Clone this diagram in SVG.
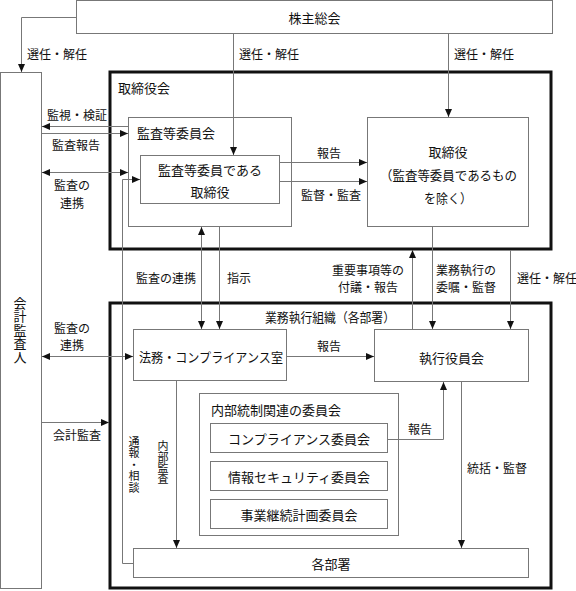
<svg xmlns="http://www.w3.org/2000/svg" width="576" height="591" viewBox="0 0 576 591">
<style>
text{font-family:"Noto Sans CJK JP","Noto Sans CJK SC",sans-serif;fill:#111;dominant-baseline:central}
.b{font-size:13px}
.l{font-size:12px}
.s{font-size:11px}
.c{text-anchor:middle}
.v{writing-mode:vertical-rl;text-anchor:middle}
.box{fill:#fff;stroke:#777;stroke-width:1}
.thick{fill:none;stroke:#111;stroke-width:3}
.ln{fill:none;stroke:#777;stroke-width:1}
</style>
<defs>
<marker id="a" viewBox="0 0 8 8" refX="8" refY="4" markerWidth="8" markerHeight="8" markerUnits="userSpaceOnUse" orient="auto-start-reverse">
<path d="M0,0.5 L8,4 L0,7.5 Z" fill="#111"/>
</marker>
</defs>
<rect width="576" height="591" fill="#fff"/>
<g id="torishimariyakukai">
<rect class="thick" x="110" y="72" width="441" height="177"/>
<text class="b" x="118" y="87">取締役会</text>
</g>
<g id="gyomu">
<rect class="thick" x="110" y="303" width="441" height="285"/>
<text class="b" x="265" y="316" textLength="130" lengthAdjust="spacingAndGlyphs">業務執行組織（各部署）</text>
</g>
<g id="kabunushi">
<rect class="box" x="76.5" y="0.5" width="476" height="33"/>
<text class="b c" x="314.5" y="17">株主総会</text>
</g>
<g id="kaikei">
<rect class="box" x="0.5" y="72.5" width="41" height="516"/>
<text class="b v" x="20" y="330" style="letter-spacing:0.5px">会計監査人</text>
</g>
<g id="kansatou">
<rect class="box" x="128.5" y="117.5" width="163" height="109"/>
<text class="b" x="137" y="132">監査等委員会</text>
</g>
<g id="kansatou-torishimari">
<rect class="box" x="140.5" y="155.5" width="139" height="48"/>
<text class="b c" x="210" y="169">監査等委員である</text>
<text class="b c" x="210" y="191">取締役</text>
</g>
<g id="torishimari">
<rect class="box" x="367.5" y="117.5" width="161" height="109"/>
<text class="b c" x="448" y="151">取締役</text>
<text class="b c" x="448.5" y="174" textLength="137" lengthAdjust="spacingAndGlyphs">（監査等委員であるもの</text>
<text class="b c" x="448" y="197" textLength="48" lengthAdjust="spacingAndGlyphs">を除く）</text>
</g>
<g id="houmu">
<rect class="box" x="133.5" y="329.5" width="153" height="51"/>
<text class="b c" x="211" y="356" textLength="144" lengthAdjust="spacingAndGlyphs">法務・コンプライアンス室</text>
</g>
<g id="shikkou">
<rect class="box" x="374.5" y="329.5" width="154" height="52"/>
<text class="b c" x="451.5" y="357">執行役員会</text>
</g>
<g id="naibutousei">
<rect class="box" x="199.5" y="393.5" width="199" height="142"/>
<text class="b" x="211" y="409">内部統制関連の委員会</text>
</g>
<g id="compliance">
<rect class="box" x="210.5" y="423.5" width="177" height="29"/>
<text class="b c" x="299" y="438">コンプライアンス委員会</text>
</g>
<g id="security">
<rect class="box" x="210.5" y="461.5" width="177" height="29"/>
<text class="b c" x="299" y="476">情報セキュリティ委員会</text>
</g>
<g id="bcp">
<rect class="box" x="210.5" y="499.5" width="177" height="29"/>
<text class="b c" x="299" y="514">事業継続計画委員会</text>
</g>
<g id="kakubusho">
<rect class="box" x="133.5" y="548.5" width="395" height="29"/>
<text class="b c" x="331" y="563">各部署</text>
</g>
<g id="connectors">
<path class="ln" d="M76,17.5 H21.5 V72" marker-end="url(#a)"/>
<path class="ln" d="M233.5,34 V155" marker-end="url(#a)"/>
<path class="ln" d="M448.5,34 V117" marker-end="url(#a)"/>
<path class="ln" d="M128,126.5 H42" marker-end="url(#a)"/>
<path class="ln" d="M42,133.5 H128" marker-end="url(#a)"/>
<path class="ln" d="M42,172.5 H128" marker-start="url(#a)" marker-end="url(#a)"/>
<path class="ln" d="M133,563.5 H122.5 V179.5 H140" marker-end="url(#a)"/>
<path class="ln" d="M280,162.5 H367" marker-end="url(#a)"/>
<path class="ln" d="M280,181.5 H367" marker-end="url(#a)"/>
<path class="ln" d="M201.5,227 V329" marker-start="url(#a)" marker-end="url(#a)"/>
<path class="ln" d="M219.5,227 V329" marker-end="url(#a)"/>
<path class="ln" d="M412.5,329 V250" marker-end="url(#a)"/>
<path class="ln" d="M432.5,227 V329" marker-end="url(#a)"/>
<path class="ln" d="M510.5,250 V329" marker-end="url(#a)"/>
<path class="ln" d="M42,356.5 H133" marker-start="url(#a)" marker-end="url(#a)"/>
<path class="ln" d="M287,356.5 H374" marker-end="url(#a)"/>
<path class="ln" d="M176.5,381 V548" marker-end="url(#a)"/>
<path class="ln" d="M42,422.5 H109" marker-end="url(#a)"/>
<path class="ln" d="M388,439.5 H443.5 V382" marker-end="url(#a)"/>
<path class="ln" d="M461.5,382 V548" marker-end="url(#a)"/>
<text class="l" x="27" y="53">選任・解任</text>
<text class="l" x="239" y="53">選任・解任</text>
<text class="l" x="454" y="53">選任・解任</text>
<text class="l" x="47" y="114">監視・検証</text>
<text class="l" x="52" y="144">監査報告</text>
<text class="l c" x="72" y="184">監査の</text>
<text class="l c" x="72" y="202">連携</text>
<text class="l c" x="329" y="152">報告</text>
<text class="l" x="301" y="194">監督・監査</text>
<text class="l" x="136" y="277">監査の連携</text>
<text class="l" x="227" y="277">指示</text>
<text class="l c" x="368" y="269">重要事項等の</text>
<text class="l c" x="368" y="286">付議・報告</text>
<text class="l c" x="466" y="269">業務執行の</text>
<text class="l c" x="466" y="286">委嘱・監督</text>
<text class="l" x="517" y="277">選任・解任</text>
<text class="l c" x="72" y="327">監査の</text>
<text class="l c" x="72" y="344">連携</text>
<text class="l c" x="329" y="345">報告</text>
<text class="l" x="53" y="434">会計監査</text>
<text class="l c" x="420" y="428">報告</text>
<text class="l" x="467" y="467">統括・監督</text>
<text class="s v" x="134" y="465" style="letter-spacing:0.5px">通報・相談</text>
<text class="s v" x="163" y="462">内部監査</text>
</g>
</svg>
